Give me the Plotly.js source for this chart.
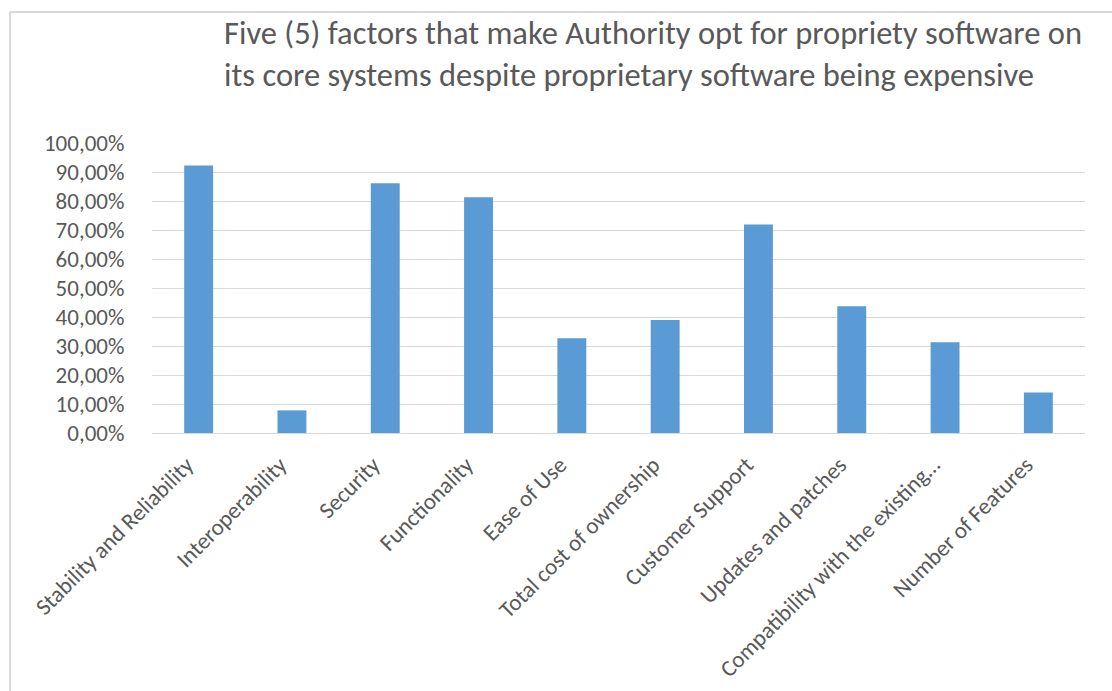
<!DOCTYPE html>
<html>
<head>
<meta charset="utf-8">
<script src="https://cdn.plot.ly/plotly-3.0.1.min.js"></script>
<style>html,body{margin:0;padding:0;background:#fff;}#chart{width:1112px;height:691px;}</style>
</head>
<body>
<div id="chart"></div>
<script>
const categories = [
  "Stability and Reliability",
  "Interoperability",
  "Security",
  "Functionality",
  "Ease of Use",
  "Total cost of ownership",
  "Customer Support",
  "Updates and patches",
  "Compatibility with the existing\u2026",
  "Number of Features"
];
const values = [0.922, 0.078, 0.861, 0.813, 0.327, 0.390, 0.719, 0.437, 0.313, 0.140];
const yTicks = [0, 0.1, 0.2, 0.3, 0.4, 0.5, 0.6, 0.7, 0.8, 0.9, 1.0];
const titleText = "Five (5) factors that make Authority opt for propriety software on<br>its core systems despite proprietary software being expensive";

const FONT = "Carlito, Calibri, 'Open Sans', sans-serif";
const GREY = "#595959";

const W = 1112, H = 691;
const L = 152, R = 27, T = 143, B = 258;
const pw = W - L - R, ph = H - T - B;
function px2x(p){ return (p - L) / pw; }
function py2y(p){ return (H - B - p) / ph; }

const trace = {
  type: "bar",
  x: categories,
  y: values,
  marker: {color: "#5b9bd5", line: {width: 0}},
  hoverinfo: "x+y"
};

const layout = {
  width: W, height: H,
  margin: {l: L, r: R, t: T, b: B, pad: 0},
  paper_bgcolor: "#ffffff",
  plot_bgcolor: "#ffffff",
  separators: ", ",
  showlegend: false,
  bargap: 0.69,
  font: {family: FONT, color: GREY, size: 23},
  title: {
    text: titleText,
    x: 224 / W, xref: "container", xanchor: "left",
    y: 1 - 44 / H, yref: "container", yanchor: "top",
    font: {family: FONT, size: 32.5, color: GREY}
  },
  xaxis: {
    type: "category",
    tickangle: -45,
    showgrid: false,
    showline: false,
    zeroline: false,
    ticks: "",
    ticklabelstandoff: 13,
    ticklabelshift: -12,
    tickfont: {family: FONT, size: 23, color: GREY},
    automargin: false
  },
  yaxis: {
    range: [0, 1],
    tickvals: yTicks,
    tickformat: ".2%",
    showgrid: true,
    gridcolor: "#d9d9d9",
    gridwidth: 1,
    zeroline: true,
    zerolinecolor: "#d9d9d9",
    zerolinewidth: 1,
    showline: false,
    ticks: "outside",
    ticklen: 22,
    tickcolor: "rgba(0,0,0,0)",
    tickfont: {family: FONT, size: 23, color: GREY},
    automargin: false
  },
  shapes: [
    {type: "line", xref: "paper", yref: "paper",
     x0: px2x(10), x1: px2x(1200), y0: py2y(12), y1: py2y(12),
     line: {color: "#d9d9d9", width: 2}},
    {type: "line", xref: "paper", yref: "paper",
     x0: px2x(10), x1: px2x(10), y0: py2y(12), y1: py2y(800),
     line: {color: "#d9d9d9", width: 2}}
  ]
};

Plotly.newPlot("chart", [trace], layout, {displayModeBar: false, staticPlot: true});
</script>
</body>
</html>
